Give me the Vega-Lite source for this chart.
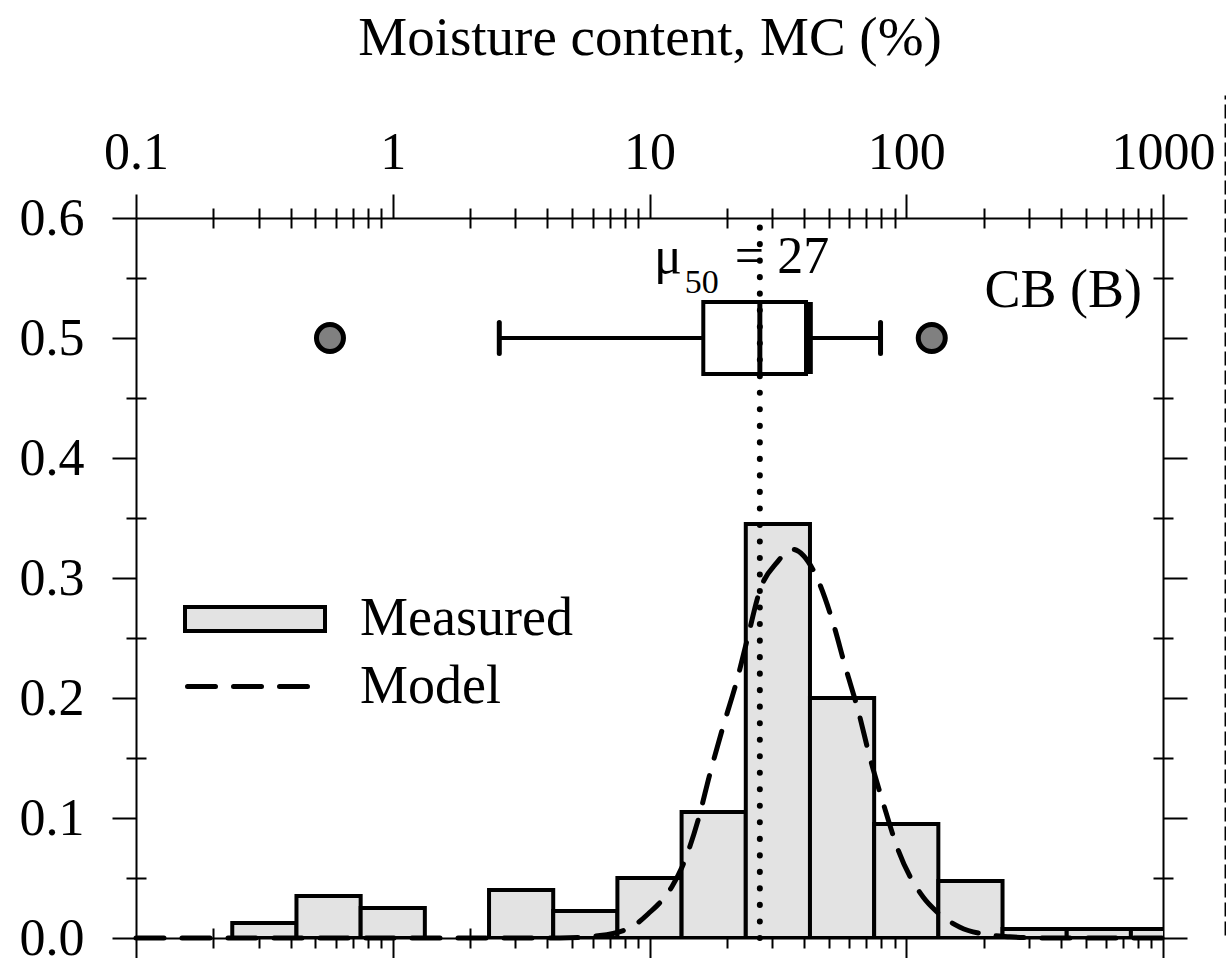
{
  "$schema": "https://vega.github.io/schema/vega-lite/v6.json",
  "autosize": "none",
  "padding": {"left": 136, "top": 218, "right": 63, "bottom": 20},
  "width": 1027,
  "height": 720,
  "background": "white",
  "config": {
    "view": {"stroke": null},
    "font": "Liberation Serif",
    "axis": {"grid": false, "tickColor": "black", "domainColor": "black", "tickWidth": 2, "domainWidth": 2, "labelColor": "black", "labelFont": "Liberation Serif", "labelFontSize": 52, "labelOverlap": false, "labelFlush": false, "titleColor": "black"}
  },
  "resolve": {"scale": {"x": "shared", "y": "shared"}, "axis": {"x": "independent", "y": "independent"}},
  "layer": [
    {
      "data": {"values": [
        {"lo": 0.2371, "hi": 0.4217, "p": 0.0125, "series": "Measured"},
        {"lo": 0.4217, "hi": 0.7499, "p": 0.035, "series": "Measured"},
        {"lo": 0.7499, "hi": 1.3335, "p": 0.025, "series": "Measured"},
        {"lo": 2.3714, "hi": 4.217, "p": 0.04, "series": "Measured"},
        {"lo": 4.217, "hi": 7.4989, "p": 0.0225, "series": "Measured"},
        {"lo": 7.4989, "hi": 13.335, "p": 0.05, "series": "Measured"},
        {"lo": 13.335, "hi": 23.714, "p": 0.105, "series": "Measured"},
        {"lo": 23.714, "hi": 42.17, "p": 0.345, "series": "Measured"},
        {"lo": 42.17, "hi": 74.989, "p": 0.2, "series": "Measured"},
        {"lo": 74.989, "hi": 133.35, "p": 0.095, "series": "Measured"},
        {"lo": 133.35, "hi": 237.14, "p": 0.0475, "series": "Measured"},
        {"lo": 237.14, "hi": 421.7, "p": 0.0075, "series": "Measured"},
        {"lo": 421.7, "hi": 749.89, "p": 0.0075, "series": "Measured"},
        {"lo": 749.89, "hi": 1333.5, "p": 0.0075, "series": "Measured"}
      ]},
      "mark": {"type": "rect", "stroke": "black", "strokeWidth": 4, "clip": true},
      "encoding": {
        "x": {"field": "lo", "type": "quantitative", "scale": {"type": "log", "domain": [0.1, 1000], "nice": false},
          "axis": {"orient": "top", "values": [0.1, 1, 10, 100, 1000], "format": "~g", "tickSize": 24, "labelPadding": 15, "title": "Moisture content, MC (%)", "titleFont": "Liberation Serif", "titleFontSize": 55, "titleFontWeight": "normal", "titlePadding": 60}},
        "x2": {"field": "hi"},
        "y": {"field": "p", "type": "quantitative", "scale": {"domain": [0, 0.6], "nice": false, "zero": true},
          "axis": {"orient": "left", "values": [0, 0.1, 0.2, 0.3, 0.4, 0.5, 0.6], "format": ".1f", "tickSize": 24, "labelPadding": 28, "title": null}},
        "y2": {"datum": 0},
        "fill": {"field": "series", "type": "nominal", "scale": {"domain": ["Measured"], "range": ["#e3e3e3"]},
          "legend": {"orient": "none", "legendX": 47, "legendY": 329, "title": null, "padding": 0, "symbolType": "M-1,-0.171L1,-0.171L1,0.171L-1,0.171Z", "symbolSize": 19600, "symbolStrokeColor": "black", "symbolStrokeWidth": 4, "labelFont": "Liberation Serif", "labelFontSize": 54, "labelColor": "black", "labelOffset": 33, "labelLimit": 500,
            "encode": {"symbols": {"update": {"stroke": {"value": "black"}, "strokeWidth": {"value": 4}, "fill": {"value": "#e3e3e3"}}}}}}
      }
    },
    {
      "data": {"values": [
        {"mc": 0.1, "p": 0, "series": "Model"},
        {"mc": 4.48, "p": 0, "series": "Model"},
        {"mc": 6.415, "p": 0.002, "series": "Model"},
        {"mc": 8.626, "p": 0.01, "series": "Model"},
        {"mc": 9.867, "p": 0.02, "series": "Model"},
        {"mc": 12.24, "p": 0.043, "series": "Model"},
        {"mc": 13.38, "p": 0.059, "series": "Model"},
        {"mc": 15.45, "p": 0.098, "series": "Model"},
        {"mc": 17.2, "p": 0.137, "series": "Model"},
        {"mc": 19.34, "p": 0.176, "series": "Model"},
        {"mc": 21.92, "p": 0.215, "series": "Model"},
        {"mc": 23.98, "p": 0.248, "series": "Model"},
        {"mc": 26.94, "p": 0.29, "series": "Model"},
        {"mc": 31.39, "p": 0.313, "series": "Model"},
        {"mc": 35.89, "p": 0.324, "series": "Model"},
        {"mc": 43.45, "p": 0.3065, "series": "Model"},
        {"mc": 51.98, "p": 0.262, "series": "Model"},
        {"mc": 57.72, "p": 0.227, "series": "Model"},
        {"mc": 65.06, "p": 0.189, "series": "Model"},
        {"mc": 72.27, "p": 0.15, "series": "Model"},
        {"mc": 81.42, "p": 0.112, "series": "Model"},
        {"mc": 93.11, "p": 0.073, "series": "Model"},
        {"mc": 116.5, "p": 0.034, "series": "Model"},
        {"mc": 131.4, "p": 0.022, "series": "Model"},
        {"mc": 161.9, "p": 0.009, "series": "Model"},
        {"mc": 202.6, "p": 0.003, "series": "Model"},
        {"mc": 253.6, "p": 0.001, "series": "Model"},
        {"mc": 331.8, "p": 0, "series": "Model"},
        {"mc": 1000, "p": 0, "series": "Model"}
      ]},
      "mark": {"type": "line", "color": "black", "strokeWidth": 5, "strokeCap": "round", "interpolate": "monotone"},
      "encoding": {
        "x": {"field": "mc", "type": "quantitative", "scale": {"type": "log", "domain": [0.1, 1000], "nice": false},
          "axis": {"orient": "top", "values": [0.2,0.3,0.4,0.5,0.6,0.7,0.8,0.9,2,3,4,5,6,7,8,9,20,30,40,50,60,70,80,90,200,300,400,500,600,700,800,900], "tickSize": 20, "offset": -10, "domain": false, "labels": false, "title": null}},
        "y": {"field": "p", "type": "quantitative", "scale": {"domain": [0, 0.6], "nice": false},
          "axis": {"orient": "left", "values": [0.05, 0.15, 0.25, 0.35, 0.45, 0.55], "tickSize": 20, "offset": -10, "domain": false, "labels": false, "title": null}},
        "strokeDash": {"field": "series", "type": "nominal", "scale": {"domain": ["Model"], "range": [[28, 18]]},
          "legend": {"orient": "none", "legendX": 49, "legendY": 406, "title": null, "padding": 0, "symbolType": "stroke", "symbolSize": 14400, "symbolStrokeColor": "black", "symbolStrokeWidth": 5, "labelFont": "Liberation Serif", "labelFontSize": 54, "labelColor": "black", "labelOffset": 50, "labelLimit": 500,
            "encode": {"symbols": {"update": {"strokeCap": {"value": "round"}, "stroke": {"value": "black"}, "strokeWidth": {"value": 5}}}}}}
      }
    },
    {
      "data": {"values": [{"q1": 16.2, "q3": 40.7, "lo": 0.47, "hi": 0.53}]},
      "mark": {"type": "rect", "fill": "white", "stroke": "black", "strokeWidth": 4},
      "encoding": {
        "x": {"field": "q1", "type": "quantitative", "scale": {"type": "log", "domain": [0.1, 1000], "nice": false},
          "axis": {"orient": "bottom", "values": [0.1, 1, 10, 100, 1000], "tickSize": 24, "labels": false, "title": null}},
        "x2": {"field": "q3"},
        "y": {"field": "lo", "type": "quantitative", "scale": {"domain": [0, 0.6], "nice": false},
          "axis": {"orient": "right", "values": [0, 0.1, 0.2, 0.3, 0.4, 0.5, 0.6], "tickSize": 24, "labels": false, "title": null}},
        "y2": {"field": "hi"}
      }
    },
    {
      "data": {"values": [{"mc": 26.9, "lo": 0.47, "hi": 0.53}, {"mc": 42.3, "lo": 0.47, "hi": 0.53}]},
      "mark": {"type": "rule", "color": "black", "strokeWidth": 5},
      "encoding": {
        "x": {"field": "mc", "type": "quantitative", "scale": {"type": "log", "domain": [0.1, 1000], "nice": false},
          "axis": {"orient": "bottom", "values": [0.2,0.3,0.4,0.5,0.6,0.7,0.8,0.9,2,3,4,5,6,7,8,9,20,30,40,50,60,70,80,90,200,300,400,500,600,700,800,900], "tickSize": 20, "offset": -10, "domain": false, "labels": false, "title": null}},
        "y": {"field": "lo", "type": "quantitative", "scale": {"domain": [0, 0.6], "nice": false},
          "axis": {"orient": "right", "values": [0.05, 0.15, 0.25, 0.35, 0.45, 0.55], "tickSize": 20, "offset": -10, "domain": false, "labels": false, "title": null}},
        "y2": {"field": "hi"}
      }
    },
    {
      "data": {"values": [{"a": 2.6, "b": 16.2, "p": 0.5}, {"a": 42.3, "b": 79.4, "p": 0.5}]},
      "mark": {"type": "rule", "color": "black", "strokeWidth": 4},
      "encoding": {
        "x": {"field": "a", "type": "quantitative", "scale": {"type": "log", "domain": [0.1, 1000], "nice": false}, "axis": null},
        "x2": {"field": "b"},
        "y": {"field": "p", "type": "quantitative", "scale": {"domain": [0, 0.6], "nice": false}, "axis": null}
      }
    },
    {
      "data": {"values": [{"mc": 2.6, "lo": 0.487, "hi": 0.513}, {"mc": 79.4, "lo": 0.487, "hi": 0.513}]},
      "mark": {"type": "rule", "color": "black", "strokeWidth": 5, "strokeCap": "round"},
      "encoding": {
        "x": {"field": "mc", "type": "quantitative", "scale": {"type": "log", "domain": [0.1, 1000], "nice": false}, "axis": null},
        "y": {"field": "lo", "type": "quantitative", "scale": {"domain": [0, 0.6], "nice": false}, "axis": null},
        "y2": {"field": "hi"}
      }
    },
    {
      "data": {"values": [{"mc": 0.5695, "p": 0.5}, {"mc": 125.7, "p": 0.5}]},
      "mark": {"type": "point", "shape": "circle", "filled": true, "fill": "#808080", "stroke": "black", "strokeWidth": 5, "size": 729, "opacity": 1},
      "encoding": {
        "x": {"field": "mc", "type": "quantitative", "scale": {"type": "log", "domain": [0.1, 1000], "nice": false}, "axis": null},
        "y": {"field": "p", "type": "quantitative", "scale": {"domain": [0, 0.6], "nice": false}, "axis": null}
      }
    },
    {
      "data": {"values": [{"mc": 26.9, "p": 0.554, "label": "μ"}]},
      "mark": {"type": "text", "font": "Liberation Serif", "fontSize": 52, "align": "right", "baseline": "alphabetic", "dx": -78, "color": "black"},
      "encoding": {
        "x": {"field": "mc", "type": "quantitative", "scale": {"type": "log", "domain": [0.1, 1000], "nice": false}, "axis": null},
        "y": {"field": "p", "type": "quantitative", "scale": {"domain": [0, 0.6], "nice": false}, "axis": null},
        "text": {"field": "label"}
      }
    },
    {
      "data": {"values": [{"mc": 26.9, "p": 0.554, "label": "50"}]},
      "mark": {"type": "text", "font": "Liberation Serif", "fontSize": 34, "align": "left", "baseline": "alphabetic", "dx": -75, "dy": 20, "color": "black"},
      "encoding": {
        "x": {"field": "mc", "type": "quantitative", "scale": {"type": "log", "domain": [0.1, 1000], "nice": false}, "axis": null},
        "y": {"field": "p", "type": "quantitative", "scale": {"domain": [0, 0.6], "nice": false}, "axis": null},
        "text": {"field": "label"}
      }
    },
    {
      "data": {"values": [{"mc": 26.9, "p": 0.554, "label": "= 27"}]},
      "mark": {"type": "text", "font": "Liberation Serif", "fontSize": 52, "align": "left", "baseline": "alphabetic", "dx": -25, "color": "black"},
      "encoding": {
        "x": {"field": "mc", "type": "quantitative", "scale": {"type": "log", "domain": [0.1, 1000], "nice": false}, "axis": null},
        "y": {"field": "p", "type": "quantitative", "scale": {"domain": [0, 0.6], "nice": false}, "axis": null},
        "text": {"field": "label"}
      }
    },
    {
      "data": {"values": [{"mc": 1000, "p": 0.526, "label": "CB (B)"}]},
      "mark": {"type": "text", "font": "Liberation Serif", "fontSize": 54, "align": "right", "baseline": "alphabetic", "dx": -21, "color": "black"},
      "encoding": {
        "x": {"field": "mc", "type": "quantitative", "scale": {"type": "log", "domain": [0.1, 1000], "nice": false}, "axis": null},
        "y": {"field": "p", "type": "quantitative", "scale": {"domain": [0, 0.6], "nice": false}, "axis": null},
        "text": {"field": "label"}
      }
    },
    {
      "data": {"values": [{"mc": 26.9, "lo": 0, "hi": 0.593}]},
      "mark": {"type": "rule", "color": "black", "strokeWidth": 6, "strokeCap": "round", "strokeDash": [0.1, 16.42]},
      "encoding": {
        "x": {"field": "mc", "type": "quantitative", "scale": {"type": "log", "domain": [0.1, 1000], "nice": false}, "axis": null},
        "y": {"field": "lo", "type": "quantitative", "scale": {"domain": [0, 0.6], "nice": false}, "axis": null},
        "y2": {"field": "hi"}
      }
    },
    {
      "data": {"values": [{"mc": 1760, "lo": 0.002, "hi": 0.702}]},
      "mark": {"type": "rule", "color": "black", "strokeWidth": 3, "strokeDash": [14, 5], "clip": false},
      "encoding": {
        "x": {"field": "mc", "type": "quantitative", "scale": {"type": "log", "domain": [0.1, 1000], "nice": false}, "axis": null},
        "y": {"field": "lo", "type": "quantitative", "scale": {"domain": [0, 0.6], "nice": false}, "axis": null},
        "y2": {"field": "hi"}
      }
    }
  ]
}
